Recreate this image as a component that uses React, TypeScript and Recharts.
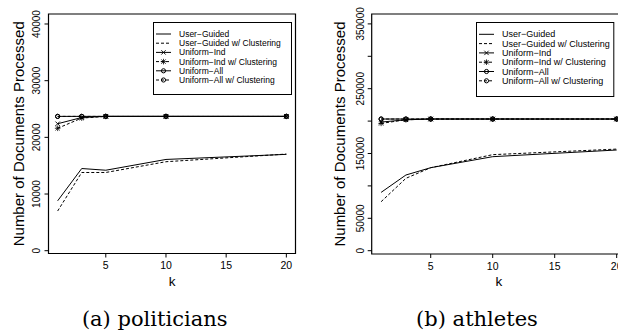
import React from 'react';
import { LineChart, Line, XAxis, YAxis, ReferenceArea, Legend } from 'recharts';

// ---- data ----
const kValues = [1, 3, 5, 10, 20];

// (a) politicians
const polUserGuided = [8800, 14500, 14200, 16100, 17000];
const polUserGuidedClust = [7000, 13800, 13800, 15700, 17050];
const polUniformInd = [22400, 23500, 23700, 23700, 23700];
const polUniformIndClust = [21600, 23400, 23700, 23700, 23700];
const polUniformAll = [23700, 23700, 23700, 23700, 23700];
const polUniformAllClust = [23700, 23700, 23700, 23700, 23700];

// (b) athletes
const athUserGuided = [90000, 116800, 128100, 145100, 155400];
const athUserGuidedClust = [75600, 111700, 128100, 148200, 156800];
const athUniformInd = [198500, 202000, 203200, 203200, 203200];
const athUniformIndClust = [196500, 202000, 203200, 203200, 203200];
const athUniformAll = [203200, 203200, 203200, 203200, 203200];
const athUniformAllClust = [203200, 203200, 203200, 203200, 203200];

const seriesNames = [
  'User\u2212Guided',
  'User\u2212Guided w/ Clustering',
  'Uniform\u2212Ind',
  'Uniform\u2212Ind w/ Clustering',
  'Uniform\u2212All',
  'Uniform\u2212All w/ Clustering',
];
const seriesKeys = ['ug', 'ugc', 'ui', 'uic', 'ua', 'uac'];
const seriesDash = [undefined, '3 2', undefined, '3 2', undefined, '3 2'];
const seriesMarker = ['none', 'none', 'x', 'star', 'o', 'o'];

const xTicks = [5, 10, 15, 20];
const polYTicks = [0, 10000, 20000, 30000, 40000];
const athYTicks = [0, 50000, 100000, 150000, 200000, 250000, 300000, 350000];
const athYTickLabels = [0, 50000, 150000, 250000, 350000];

const yTitle = 'Number of Documents Processed';
const xTitle = 'k';
const captionA = '(a) politicians';
const captionB = '(b) athletes';

const buildRows = (cols: number[][]) =>
  kValues.map((k, i) => {
    const row: Record<string, number> = { k };
    seriesKeys.forEach((key, j) => {
      row[key] = cols[j][i];
    });
    return row;
  });

const polRows = buildRows([
  polUserGuided, polUserGuidedClust, polUniformInd, polUniformIndClust, polUniformAll, polUniformAllClust,
]);
const athRows = buildRows([
  athUserGuided, athUserGuidedClust, athUniformInd, athUniformIndClust, athUniformAll, athUniformAllClust,
]);

const SANS = '"Liberation Sans", Arial, Helvetica, sans-serif';

// ---- markers ----
const Marker = ({ type, cx, cy }: { type: string; cx: number; cy: number }) => {
  const d = 2.2;
  if (type === 'x') {
    return (
      <g stroke="#000" strokeWidth={0.9}>
        <line x1={cx - d} y1={cy - d} x2={cx + d} y2={cy + d} />
        <line x1={cx - d} y1={cy + d} x2={cx + d} y2={cy - d} />
      </g>
    );
  }
  if (type === 'star') {
    const p = 2.8;
    return (
      <g stroke="#000" strokeWidth={0.8}>
        <line x1={cx - d} y1={cy - d} x2={cx + d} y2={cy + d} />
        <line x1={cx - d} y1={cy + d} x2={cx + d} y2={cy - d} />
        <line x1={cx - p} y1={cy} x2={cx + p} y2={cy} />
        <line x1={cx} y1={cy - p} x2={cx} y2={cy + p} />
      </g>
    );
  }
  if (type === 'o') {
    return <circle cx={cx} cy={cy} r={2.1} fill="none" stroke="#000" strokeWidth={1} />;
  }
  return null;
};

const makeDot = (type: string) => (props: any) => {
  const { cx, cy, index } = props;
  if (type === 'none' || cx == null || cy == null) return <g key={`d-${index}`} />;
  return (
    <g key={`d-${type}-${index}`}>
      <Marker type={type} cx={cx} cy={cy} />
    </g>
  );
};

// ---- legend ----
const makeLegend = (w: number, h: number, firstRow: number, step: number, fontSize: number) => () => (
  <svg width={w} height={h} style={{ display: 'block', overflow: 'visible' }}>
    <rect x={0.5} y={0.5} width={w - 1} height={h - 1} fill="#fff" stroke="#000" strokeWidth={1} />
    {seriesNames.map((name, i) => {
      const y = firstRow + i * step;
      return (
        <g key={name}>
          <line x1={3} y1={y} x2={18} y2={y} stroke="#000" strokeWidth={1} strokeDasharray={seriesDash[i]} />
          <Marker type={seriesMarker[i]} cx={10.5} cy={y} />
          <text x={26} y={y} dy="0.35em" fontSize={fontSize} fontFamily={SANS} fill="#000">
            {name}
          </text>
        </g>
      );
    })}
  </svg>
);

// ---- axis pieces ----
const makeYTick = (labels: number[] | null) => (props: any) => {
  const { x, y, payload } = props;
  const v = payload.value;
  if (labels && !labels.includes(v)) return <g />;
  return (
    <text
      x={x}
      y={y}
      transform={`rotate(-90 ${x} ${y})`}
      textAnchor="middle"
      fontSize={10}
      fontFamily={SANS}
      fill="#000"
    >
      {v}
    </text>
  );
};

const makeYTitle = (gap: number) => (props: any) => {
  const vb = props.viewBox || {};
  const left = (vb.x || 0) + (vb.width || 0);
  const cx = left - gap;
  const cy = (vb.y || 0) + (vb.height || 0) / 2;
  return (
    <text
      x={cx}
      y={cy}
      transform={`rotate(-90 ${cx} ${cy})`}
      textAnchor="middle"
      fontSize={15}
      fontFamily={SANS}
      fill="#000"
    >
      {yTitle}
    </text>
  );
};

const makeXTitle = (drop: number) => (props: any) => {
  const vb = props.viewBox || {};
  const cx = (vb.x || 0) + (vb.width || 0) / 2;
  const cy = (vb.y || 0) + drop;
  return (
    <text x={cx} y={cy} textAnchor="middle" fontSize={13.5} fontFamily={SANS} fill="#000">
      {xTitle}
    </text>
  );
};

type PanelProps = {
  rows: Record<string, number>[];
  width: number;
  yAxisWidth: number;
  marginRight: number;
  marginBottom: number;
  yDomain: [number, number];
  yTicks: number[];
  yLabels: number[] | null;
  titleGap: number;
  legend: { left: number; top: number; w: number; h: number; first: number; step: number; font: number };
};

const xDomain: [number, number] = [0.24, 20.76];

const Panel = (p: PanelProps) => (
  <LineChart
    width={p.width}
    height={330}
    data={p.rows}
    margin={{ top: 14, right: p.marginRight, bottom: p.marginBottom, left: 0 }}
  >
    <XAxis
      dataKey="k"
      type="number"
      domain={xDomain}
      ticks={xTicks}
      allowDataOverflow
      height={30}
      axisLine={false}
      tickLine={{ stroke: '#000' }}
      tickSize={4}
      tickMargin={4.5}
      tick={{ fill: '#000', fontSize: 10.5, fontFamily: SANS }}
      label={makeXTitle(32)}
    />
    <YAxis
      type="number"
      domain={p.yDomain}
      ticks={p.yTicks}
      allowDataOverflow
      width={p.yAxisWidth}
      axisLine={false}
      tickLine={{ stroke: '#000' }}
      tickSize={4}
      tickMargin={4}
      tick={makeYTick(p.yLabels)}
      interval={0}
      label={makeYTitle(p.titleGap)}
    />
    <ReferenceArea
      x1={xDomain[0]}
      x2={xDomain[1]}
      y1={p.yDomain[0]}
      y2={p.yDomain[1]}
      fill="none"
      fillOpacity={0}
      stroke="#000"
      strokeWidth={1.2}
      ifOverflow="visible"
    />
    {seriesKeys.map((key, i) => (
      <Line
        key={key}
        dataKey={key}
        name={seriesNames[i]}
        type="linear"
        stroke="#000"
        strokeWidth={1}
        strokeDasharray={seriesDash[i]}
        dot={makeDot(seriesMarker[i])}
        activeDot={false}
        isAnimationActive={false}
      />
    ))}
    <Legend
      layout="horizontal"
      verticalAlign="middle"
      content={makeLegend(p.legend.w, p.legend.h, p.legend.first, p.legend.step, p.legend.font)}
      wrapperStyle={{ position: 'absolute', left: p.legend.left, top: p.legend.top, width: p.legend.w, height: p.legend.h }}
    />
  </LineChart>
);

export default function App() {
  return (
    <div
      style={{
        position: 'fixed',
        left: 0,
        top: 0,
        width: 618,
        height: 330,
        overflow: 'hidden',
        background: '#fff',
      }}
    >
      <div style={{ position: 'absolute', left: 0, top: 0, width: 310, height: 330 }}>
        <Panel
          rows={polRows}
          width={310}
          yAxisWidth={48.5}
          marginRight={14.5}
          marginBottom={46.5}
          yDomain={[-494, 41764]}
          yTicks={polYTicks}
          yLabels={null}
          titleGap={24.5}
          legend={{ left: 153, top: 22, w: 139, h: 73, first: 12, step: 9.2, font: 8.5 }}
        />
      </div>
      <div style={{ position: 'absolute', left: 310, top: 0, width: 330, height: 330 }}>
        <Panel
          rows={athRows}
          width={330}
          yAxisWidth={61.7}
          marginRight={13.9}
          marginBottom={46}
          yDomain={[-5093, 365278]}
          yTicks={athYTicks}
          yLabels={athYTickLabels}
          titleGap={26.7}
          legend={{ left: 165.7, top: 21.7, w: 138.3, h: 75, first: 12.3, step: 9.3, font: 9 }}
        />
      </div>
      <div
        style={{
          position: 'absolute',
          left: 54.7,
          width: 200,
          top: 309,
          textAlign: 'center',
          fontFamily: '"DejaVu Serif", serif',
          fontSize: 21,
          lineHeight: '21px',
          whiteSpace: 'nowrap',
        }}
      >
        {captionA}
      </div>
      <div
        style={{
          position: 'absolute',
          left: 377,
          width: 200,
          top: 309,
          textAlign: 'center',
          fontFamily: '"DejaVu Serif", serif',
          fontSize: 21,
          lineHeight: '21px',
          whiteSpace: 'nowrap',
        }}
      >
        {captionB}
      </div>
    </div>
  );
}
